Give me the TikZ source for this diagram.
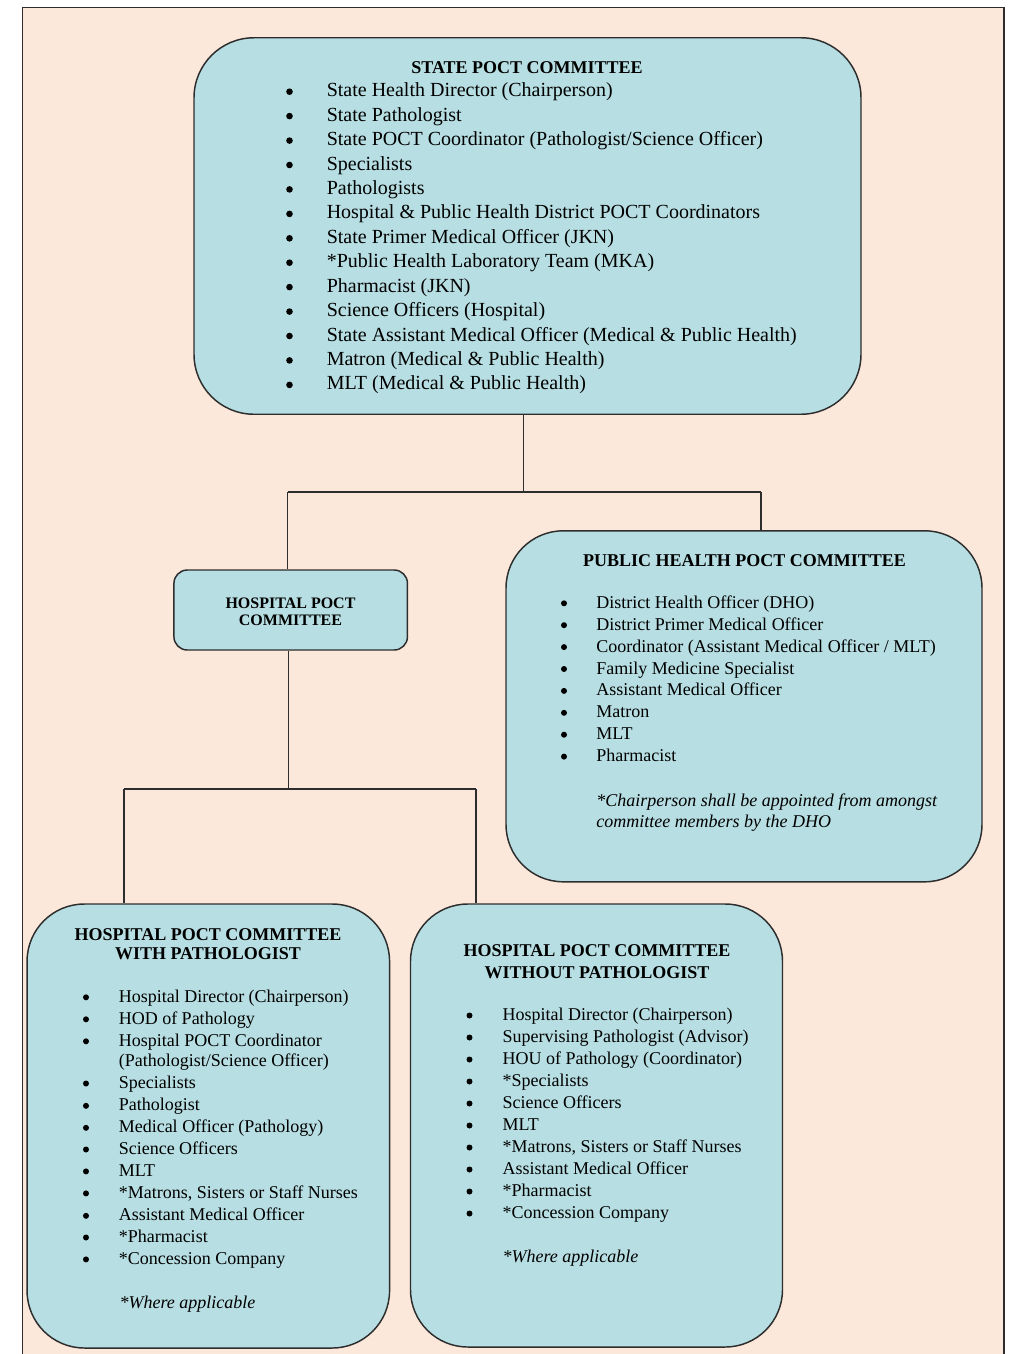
\documentclass[tikz,border=0pt]{standalone}
\usepackage{fontspec}
\setmainfont{Liberation Serif}
\definecolor{peach}{RGB}{252,232,218}
\definecolor{boxfill}{RGB}{183,222,226}
\definecolor{edge}{RGB}{45,45,45}
\tikzset{
  box/.style={draw=edge, fill=boxfill, line width=1.1pt, rectangle, inner sep=0pt},
  conn/.style={draw=edge, line width=1.2pt},
  bigtxt/.style={inner sep=0pt, font=\fontsize{15}{18}\selectfont},
  txt/.style={inner sep=0pt, font=\fontsize{13.5}{16}\selectfont},
  ttl/.style={inner sep=0pt, font=\fontsize{13.5}{16}\selectfont\bfseries},
  sttl/.style={inner sep=0pt, font=\fontsize{12}{14}\selectfont\bfseries},
}
\newcommand\bitem[6]{%
  \fill (#2,#4-5) circle[radius=#6];
  \node[#5, anchor=base west] (#1) at (#3,#4)}
\begin{document}
\begin{tikzpicture}[x=0.75pt, y=-0.75pt]
\useasboundingbox (0,0) rectangle (1008,1354);
\clip (0,0) rectangle (1008,1354);
\fill[white] (0,0) rectangle (1008,1354);
\draw[draw=edge, fill=peach, line width=0.9pt] (22.7,7.3) rectangle (1004,1370);

% boxes
\node[box, rounded corners=45pt, minimum width={667*0.75pt}, minimum height={376.5*0.75pt}] (state) at (527.5,226) {};
\node[box, rounded corners=10pt, minimum width={233.5*0.75pt}, minimum height={80*0.75pt}] (hosp) at (290.7,610) {};
\node[box, rounded corners=43pt, minimum width={476*0.75pt}, minimum height={351*0.75pt}] (ph) at (744,706.3) {};
\node[box, rounded corners=43pt, minimum width={362.5*0.75pt}, minimum height={444*0.75pt}] (hwp) at (208.3,1126) {};
\node[box, rounded corners=43pt, minimum width={372*0.75pt}, minimum height={443*0.75pt}] (hwop) at (596.5,1125.5) {};

% connectors
\coordinate (j1) at (523.5,492);
\coordinate (jl) at (287.5,492);
\coordinate (jr) at (761,492);
\draw[conn] (j1 |- state.south) -- (j1);
\draw[conn] (jl) -- (jr);
\draw[conn] (jl) -- (jl |- hosp.north);
\draw[conn] (jr) -- (jr |- ph.north);
\coordinate (j2) at (288.5,789);
\coordinate (jl2) at (124,789);
\coordinate (jr2) at (475.7,789);
\draw[conn] (j2 |- hosp.south) -- (j2);
\draw[conn] (jl2) -- (jr2);
\draw[conn] (jl2) -- (jl2 |- hwp.north);
\draw[conn] (jr2) -- (jr2 |- hwop.north);

% state box text
\node[ttl, anchor=base] (stitle) at (527,73.3) {STATE POCT COMMITTEE};
\bitem{s0}{289.5}{326.5}{96.7}{bigtxt}{3.3} {State Health Director (Chairperson)};
\bitem{s1}{289.5}{326.5}{121.1}{bigtxt}{3.3} {State Pathologist};
\bitem{s2}{289.5}{326.5}{145.6}{bigtxt}{3.3} {State POCT Coordinator (Pathologist/Science Officer)};
\bitem{s3}{289.5}{326.5}{170.0}{bigtxt}{3.3} {Specialists};
\bitem{s4}{289.5}{326.5}{194.4}{bigtxt}{3.3} {Pathologists};
\bitem{s5}{289.5}{326.5}{218.9}{bigtxt}{3.3} {Hospital \& Public Health District POCT Coordinators};
\bitem{s6}{289.5}{326.5}{243.3}{bigtxt}{3.3} {State Primer Medical Officer (JKN)};
\bitem{s7}{289.5}{326.5}{267.7}{bigtxt}{3.3} {*Public Health Laboratory Team (MKA)};
\bitem{s8}{289.5}{326.5}{292.1}{bigtxt}{3.3} {Pharmacist (JKN)};
\bitem{s9}{289.5}{326.5}{316.6}{bigtxt}{3.3} {Science Officers (Hospital)};
\bitem{s10}{289.5}{326.5}{341.0}{bigtxt}{3.3} {State Assistant Medical Officer (Medical \& Public Health)};
\bitem{s11}{289.5}{326.5}{365.4}{bigtxt}{3.3} {Matron (Medical \& Public Health)};
\bitem{s12}{289.5}{326.5}{389.9}{bigtxt}{3.3} {MLT (Medical \& Public Health)};

% hospital small box
\node[sttl, anchor=base] (ht1) at (290.5,608.3) {HOSPITAL POCT};
\node[sttl, anchor=base] (ht2) at (290.5,625.7) {COMMITTEE};

% public health box
\node[ttl, anchor=base] (phtitle) at (744.5,566) {PUBLIC HEALTH POCT COMMITTEE};
\bitem{p0}{564}{596}{608.3}{txt}{3}{District Health Officer (DHO)};
\bitem{p1}{564}{596}{630.2}{txt}{3}{District Primer Medical Officer};
\bitem{p2}{564}{596}{652.1}{txt}{3}{Coordinator (Assistant Medical Officer / MLT)};
\bitem{p3}{564}{596}{674.0}{txt}{3}{Family Medicine Specialist};
\bitem{p4}{564}{596}{695.9}{txt}{3}{Assistant Medical Officer};
\bitem{p5}{564}{596}{717.8}{txt}{3}{Matron};
\bitem{p6}{564}{596}{739.7}{txt}{3}{MLT};
\bitem{p7}{564}{596}{761.6}{txt}{3}{Pharmacist};
\node[txt, anchor=base west, font=\fontsize{13.5}{16}\selectfont\itshape] (pn1) at (596,806.7) {*Chairperson shall be appointed from amongst};
\node[txt, anchor=base west, font=\fontsize{13.5}{16}\selectfont\itshape] (pn2) at (596,827.8) {committee members by the DHO};

% hospital with pathologist
\node[ttl, anchor=base] (lt1) at (208,940) {HOSPITAL POCT COMMITTEE};
\node[ttl, anchor=base] (lt2) at (208,959.5) {WITH PATHOLOGIST};
\bitem{l0}{86}{118.5}{1002.3}{txt}{3}{Hospital Director (Chairperson)};
\bitem{l1}{86}{118.5}{1024.3}{txt}{3}{HOD of Pathology};
\bitem{l2}{86}{118.5}{1046.3}{txt}{3}{Hospital POCT Coordinator};
\node[txt, anchor=base west] (l2b) at (118.5,1066.5) {(Pathologist/Science Officer)};
\bitem{l3}{86}{118.5}{1088.5}{txt}{3}{Specialists};
\bitem{l4}{86}{118.5}{1110.8}{txt}{3}{Pathologist};
\bitem{l5}{86}{118.5}{1132.8}{txt}{3}{Medical Officer (Pathology)};
\bitem{l6}{86}{118.5}{1154.5}{txt}{3}{Science Officers};
\bitem{l7}{86}{118.5}{1176.4}{txt}{3}{MLT};
\bitem{l8}{86}{118.5}{1198.4}{txt}{3}{*Matrons, Sisters or Staff Nurses};
\bitem{l9}{86}{118.5}{1220.8}{txt}{3}{Assistant Medical Officer};
\bitem{l10}{86}{118.5}{1242.5}{txt}{3}{*Pharmacist};
\bitem{l11}{86}{118.5}{1264.4}{txt}{3}{*Concession Company};
\node[txt, anchor=base west, font=\fontsize{13.5}{16}\selectfont\itshape] (ln) at (119.3,1308.3) {*Where applicable};

% hospital without pathologist
\node[ttl, anchor=base] (rt1) at (597,956.7) {HOSPITAL POCT COMMITTEE};
\node[ttl, anchor=base] (rt2) at (597,978.3) {WITHOUT PATHOLOGIST};
\bitem{r0}{469.5}{502.3}{1020.5}{txt}{3}{Hospital Director (Chairperson)};
\bitem{r1}{469.5}{502.3}{1042.5}{txt}{3}{Supervising Pathologist (Advisor)};
\bitem{r2}{469.5}{502.3}{1064.5}{txt}{3}{HOU of Pathology (Coordinator)};
\bitem{r3}{469.5}{502.3}{1086.5}{txt}{3}{*Specialists};
\bitem{r4}{469.5}{502.3}{1108.5}{txt}{3}{Science Officers};
\bitem{r5}{469.5}{502.3}{1130.5}{txt}{3}{MLT};
\bitem{r6}{469.5}{502.3}{1152.5}{txt}{3}{*Matrons, Sisters or Staff Nurses};
\bitem{r7}{469.5}{502.3}{1174.5}{txt}{3}{Assistant Medical Officer};
\bitem{r8}{469.5}{502.3}{1196.5}{txt}{3}{*Pharmacist};
\bitem{r9}{469.5}{502.3}{1218.5}{txt}{3}{*Concession Company};
\node[txt, anchor=base west, font=\fontsize{13.5}{16}\selectfont\itshape] (rn) at (502.3,1262.7) {*Where applicable};
\end{tikzpicture}
\end{document}
